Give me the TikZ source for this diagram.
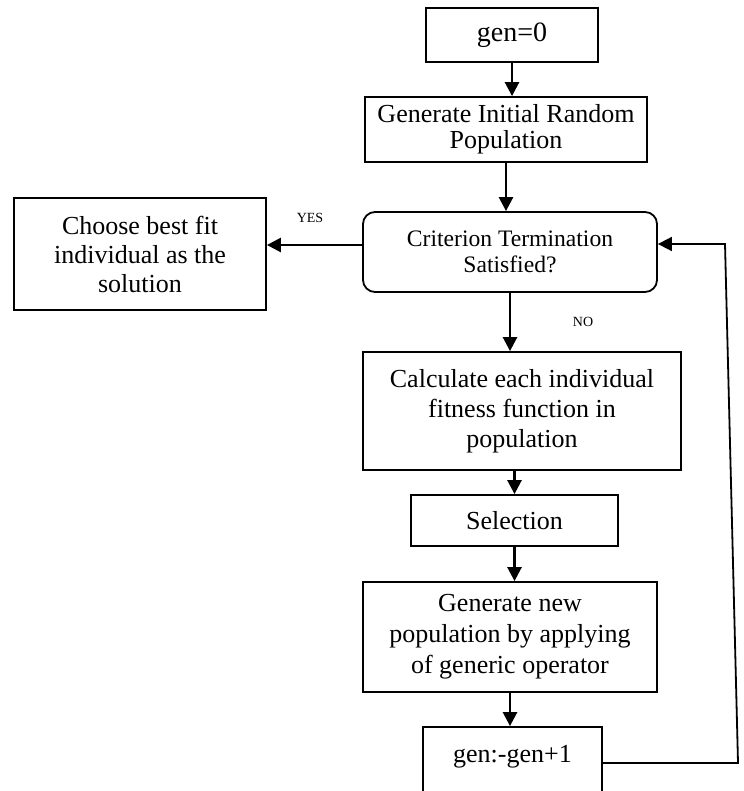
\documentclass[tikz,border=0pt]{standalone}
\usepackage{fontspec}
\setmainfont{Liberation Serif}
\usetikzlibrary{arrows.meta,calc}
\begin{document}
\begin{tikzpicture}[x=1pt,y=-1pt,
  box/.style={draw,line width=1.8pt,inner sep=0pt,align=center,font=\fontsize{26}{30}\selectfont},
  rbox/.style={box,rounded corners=12pt},
  txt/.style={inner sep=0pt,align=center,font=\fontsize{26}{30}\selectfont},
  lab/.style={font=\fontsize{14}{16}\selectfont,inner sep=0pt},
  arr/.style={line width=2.6pt,-{Triangle[length=14pt,width=14pt]}},
  fb/.style={line width=1.8pt,-{Triangle[length=14pt,width=14pt]}}]
\useasboundingbox (0,0) rectangle (743,791);
\node[box,minimum width=172pt,minimum height=54pt,font=\fontsize{28}{32}\selectfont] (gen0) at (512,35) {gen=0};
\node[box,minimum width=282pt,minimum height=65pt,font=\fontsize{26}{26}\selectfont] (girp) at (506,129.5) {Generate Initial Random\\Population};
\node[rbox,minimum width=294pt,minimum height=80pt,font=\fontsize{23.6}{26}\selectfont] (crit) at (510,252) {Criterion Termination\\Satisfied?};
\node[box,minimum width=252pt,minimum height=112pt,font=\fontsize{26}{29}\selectfont] (choose) at (140,254) {Choose best fit\\individual as the\\solution};
\node[box,minimum width=318pt,minimum height=118pt] (calc) at (522,411) {Calculate each individual\\fitness function in\\population};
\node[box,minimum width=207pt,minimum height=51pt] (sel) at (514.5,520.5) {Selection};
\node[box,minimum width=294pt,minimum height=110pt,font=\fontsize{26}{31}\selectfont] (gennew) at (510,637) {Generate new\\population by applying\\of generic operator};
\node[box,minimum width=179pt,minimum height=72pt] (genp) at (512.5,763) {};
\node[txt] (genpt) at (512.5,757) {gen:-gen+1};
\node[lab] (yes) at (310,218) {YES};
\node[lab] (no) at (583,322) {NO};
\coordinate (fb1) at (738,763);
\coordinate (fb2) at (725,244);
\draw[arr] (gen0.south) -- (gen0.south |- girp.north);
\draw[arr] (girp.south) -- (girp.south |- crit.north);
\draw[arr] (crit.south) -- (crit.south |- calc.north);
\draw[arr] (sel.north |- calc.south) -- (sel.north);
\draw[arr] (sel.south) -- (sel.south |- gennew.north);
\draw[arr] (gennew.south) -- (gennew.south |- genp.north);
\draw[arr] (crit.west |- 0,245) -- (choose.east |- 0,245);
\draw[fb] (genp.east) -- (fb1) -- (fb2) -- (fb2 -| crit.east);
\end{tikzpicture}
\end{document}
